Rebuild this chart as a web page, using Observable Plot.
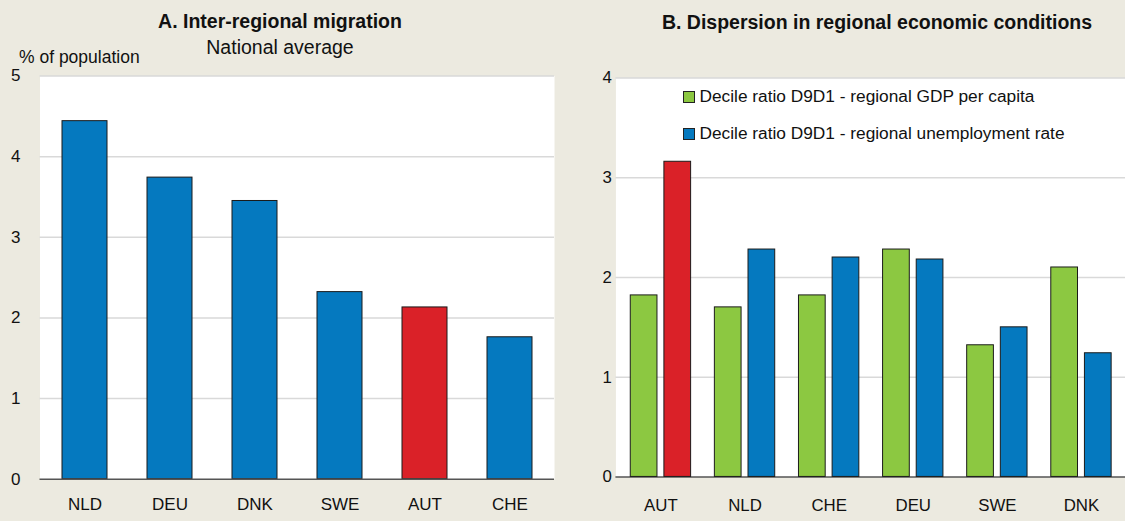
<!DOCTYPE html>
<html>
<head>
<meta charset="utf-8">
<script src="https://cdn.jsdelivr.net/npm/d3@7"></script>
<script src="https://cdn.jsdelivr.net/npm/@observablehq/plot@0.6"></script>
<style>
  html, body { margin: 0; padding: 0; }
  body { width: 1125px; height: 521px; overflow: hidden; background: #ECEAE0; position: relative;
         font-family: "Liberation Sans", Arial, sans-serif; color: #111; }
  .abs { position: absolute; }
  .title { font-weight: bold; font-size: 19.5px; line-height: 19.5px; text-align: center; white-space: nowrap; }
  .sub { font-size: 19.5px; line-height: 19.5px; text-align: center; white-space: nowrap; }
  .unit { font-size: 17.5px; line-height: 17.5px; white-space: nowrap; }
  .leg { font-size: 17.3px; line-height: 17.3px; white-space: nowrap; }
  .sw { position: absolute; width: 10px; height: 10px; border: 1px solid #222; }
</style>
</head>
<body>
<div id="panelA" class="abs" style="left:0;top:0"></div>
<div id="panelBbg" class="abs" style="left:560px;top:0"></div>
<div id="panelB" class="abs" style="left:560px;top:0"></div>

<div class="abs title" style="left:0;width:560px;top:12px">A. Inter-regional migration</div>
<div class="abs sub" style="left:0;width:560px;top:37.5px">National average</div>
<div class="abs unit" style="left:19px;top:48.5px">% of population</div>
<div class="abs title" style="left:629px;width:496px;top:13px">B. Dispersion in regional economic conditions</div>
<div id="legend"></div>

<script>
// ---- Data ----
const countriesA = ["NLD", "DEU", "DNK", "SWE", "AUT", "CHE"];
const migration = [4.44, 3.74, 3.45, 2.32, 2.13, 1.76];

const countriesB = ["AUT", "NLD", "CHE", "DEU", "SWE", "DNK"];
const gdpRatio = [1.82, 1.70, 1.82, 2.28, 1.32, 2.10];
const unempRatio = [3.16, 2.28, 2.20, 2.18, 1.50, 1.24];

const seriesKeys = ["gdp", "unemp"];
const seriesLabels = ["Decile ratio D9D1 - regional GDP per capita", "Decile ratio D9D1 - regional unemployment rate"];

const ticksA = [0, 1, 2, 3, 4, 5];
const ticksB = [0, 1, 2, 3, 4];
const highlight = "AUT";

// ---- Styles ----
const BLUE = "#0579BF", RED = "#DA2128", GREEN = "#8CC841";
const GRID = "#D9D9D9", BASE = "#555555", EDGE = "#1a1a1a";
const FONT = "'Liberation Sans', Arial, sans-serif";
const seriesColor = {gdp: GREEN, unemp: BLUE};
const fmt = d3.format("d");

const dataA = countriesA.map((c, i) => ({country: c, value: migration[i]}));
const dataB = countriesB.flatMap((c, i) => [
  {country: c, series: "gdp", value: gdpRatio[i]},
  {country: c, series: "unemp", value: unempRatio[i]}
]);

// ---- Panel A ----
const plotA = Plot.plot({
  width: 560, height: 521,
  marginLeft: 39.5, marginRight: 6, marginTop: 75.5, marginBottom: 42.3,
  style: {background: "transparent", fontFamily: FONT, fontSize: "17px", color: "#111"},
  x: {domain: countriesA, paddingInner: 0.47, paddingOuter: 0.235, label: null, tickSize: 0, tickPadding: 19},
  y: {domain: [0, 5], ticks: ticksA, tickFormat: fmt, label: null, tickSize: 0, tickPadding: 19.5},
  color: {type: "identity"},
  marks: [
    Plot.frame({fill: "white", stroke: "none"}),
    Plot.ruleY(ticksA.slice(1), {stroke: GRID, strokeWidth: 1.5}),
    Plot.barY(dataA, {x: "country", y: "value",
      fill: d => d.country === highlight ? RED : BLUE, stroke: EDGE, strokeWidth: 1}),
    Plot.ruleY([0], {stroke: BASE, strokeWidth: 1.5})
  ]
});
document.getElementById("panelA").append(plotA);

// ---- Panel B: background (plot area, grid, baseline) ----
const dimsB = {width: 571, height: 521, marginLeft: 56, marginRight: 0, marginTop: 78.3, marginBottom: 39.5};
const plotBbg = Plot.plot({
  ...dimsB,
  style: {background: "transparent", fontFamily: FONT, fontSize: "17px", color: "#111"},
  y: {domain: [0, 4], axis: null},
  marks: [
    Plot.frame({fill: "white", stroke: "none"}),
    Plot.ruleY(ticksB.slice(1), {stroke: GRID, strokeWidth: 1.5}),
    Plot.ruleY([0], {stroke: BASE, strokeWidth: 1.5})
  ]
});
document.getElementById("panelBbg").append(plotBbg);

// ---- Panel B: bars ----
const plotB = Plot.plot({
  ...dimsB,
  style: {background: "transparent", fontFamily: FONT, fontSize: "17px", color: "#111"},
  facet: {data: dataB, x: "country"},
  fx: {domain: countriesB, paddingInner: 0.284, paddingOuter: 0.142, label: null, tickSize: 0, tickPadding: 22.5, axis: "bottom"},
  x: {domain: seriesKeys, paddingInner: 0.215, paddingOuter: 0, axis: null},
  y: {domain: [0, 4], ticks: ticksB, tickFormat: fmt, label: null, tickSize: 0, tickPadding: 19},
  color: {type: "identity"},
  marks: [
    Plot.barY(dataB, {x: "series", y: "value",
      fill: d => (d.series === "unemp" && d.country === highlight) ? RED : seriesColor[d.series],
      stroke: EDGE, strokeWidth: 1})
  ]
});
document.getElementById("panelB").append(plotB);

// ---- Legend (panel B) ----
const legend = document.getElementById("legend");
seriesKeys.forEach((k, i) => {
  const top = 90.7 + i * 37.2;
  const sw = document.createElement("div");
  sw.className = "sw";
  sw.style.left = "682.5px";
  sw.style.top = top + "px";
  sw.style.background = seriesColor[k];
  legend.append(sw);
  const t = document.createElement("div");
  t.className = "abs leg";
  t.style.left = "699.5px";
  t.style.top = (top + 11.8 - 0.848 * 17.3) + "px";
  t.textContent = seriesLabels[i];
  legend.append(t);
});
</script>
</body>
</html>
